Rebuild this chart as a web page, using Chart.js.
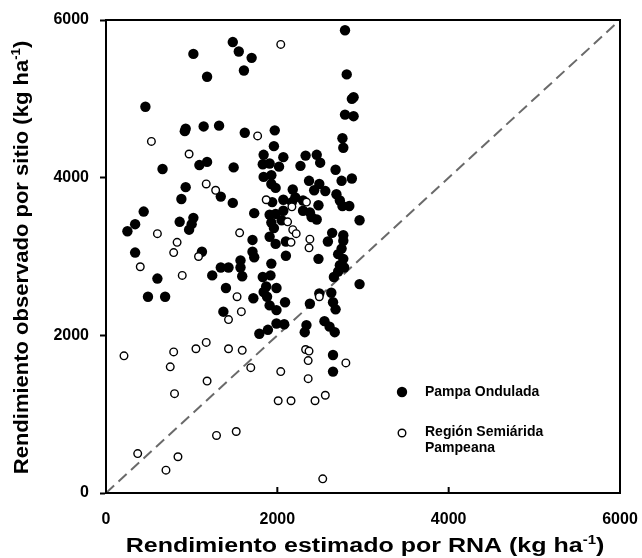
<!DOCTYPE html>
<html>
<head>
<meta charset="utf-8">
<script src="https://cdn.jsdelivr.net/npm/chart.js@4.4.1/dist/chart.umd.min.js"></script>
<style>
  html, body { margin: 0; padding: 0; background: #fff; }
</style>
</head>
<body>
<canvas id="yieldChart" width="642" height="558"></canvas>
<script>
// Observed vs. ANN-estimated yield per site (kg/ha)
const seriesNames = ['Pampa Ondulada', 'Región Semiárida Pampeana']
const axisTicks = [0, 2000, 4000, 6000]
const identityLine = [0, 6000]

// [estimado, observado]
const pampaOndulada = [
  [1480, 5720], [1550, 5600], [1700, 5520], [1610, 5360], [1020, 5570], [1180, 5280],
  [460, 4900], [930, 4620], [920, 4590], [1140, 4650], [1320, 4660], [1620, 4570],
  [1970, 4600], [1960, 4400], [1090, 4160], [1180, 4200], [660, 4110], [1490, 4130],
  [1840, 4290], [1830, 4170], [1910, 4180], [1840, 4010], [1930, 4030],
  [2790, 5870], [2810, 5310], [2890, 5020], [2870, 5000], [2790, 4800], [2890, 4780],
  [2760, 4500], [2770, 4380], [2070, 4260], [2330, 4280], [2460, 4290], [2500, 4190],
  [2270, 4150], [2020, 4140], [2680, 4100], [2370, 3960], [2750, 3960], [2870, 3990],
  [930, 3880], [1340, 3760], [880, 3730], [1480, 3680], [440, 3570], [340, 3410],
  [250, 3320], [860, 3440], [1020, 3490], [1000, 3410], [970, 3340], [1120, 3060],
  [340, 3050], [600, 2720], [490, 2490], [690, 2490], [1240, 2760], [1340, 2860],
  [1430, 2860], [1570, 2950], [1570, 2860], [1590, 2750], [1400, 2600], [1370, 2300],
  [1730, 3550], [1710, 3210], [1710, 3060], [1730, 2990], [1720, 2470], [1930, 2910],
  [1830, 2740], [1920, 2760], [1870, 2620], [1990, 2600], [1880, 2490], [1910, 2380],
  [1990, 2150], [1790, 2020], [1890, 2070], [1910, 3530], [1980, 3540], [1910, 3250],
  [1980, 3160], [1960, 3360], [1930, 3920], [1940, 3690],
  [2490, 3920], [2430, 3840], [2560, 3830], [2690, 3790], [2730, 3710], [2760, 3640],
  [2840, 3640], [2960, 3460], [2180, 3850], [2210, 3750], [1980, 3870], [2070, 3720],
  [2480, 3650], [2300, 3580], [2380, 3560], [2400, 3500], [2460, 3470], [2070, 3580],
  [2100, 3190], [2640, 3300], [2770, 3270], [2590, 3190], [2770, 3200], [2750, 3100],
  [2710, 3030], [2770, 2970], [2730, 2890], [2780, 2860], [2710, 2810], [2660, 2740],
  [2480, 2970], [2100, 3010], [2960, 2650], [2490, 2530], [2630, 2540], [2650, 2420],
  [2680, 2330], [2380, 2400], [2090, 2420], [1990, 2320], [2550, 2180], [2610, 2110],
  [2670, 2040], [2340, 2130], [2320, 2040], [2080, 2140], [2650, 1750], [2650, 1540],
  [1930, 3430], [2050, 3460], [1840, 2550], [2300, 3710], [2170, 3690]
]

const regionSemiarida = [
  [1770, 4530], [530, 4460], [970, 4300], [2040, 5690], [1170, 3920], [1280, 3840],
  [600, 3290], [830, 3180], [790, 3050], [1080, 3000], [400, 2870], [890, 2760],
  [1530, 2490], [1430, 2200], [1580, 2300], [1560, 3300], [1870, 3720], [1170, 1910],
  [2170, 3630], [2340, 3690], [2120, 3440], [2180, 3340], [2220, 3290], [2160, 3180],
  [2380, 3220], [2370, 3110], [2490, 2490], [210, 1740], [790, 1790], [750, 1600],
  [1050, 1830], [1430, 1830], [1590, 1810], [1690, 1590], [1180, 1420], [800, 1260],
  [1290, 730], [1520, 780], [370, 500], [840, 460], [700, 290], [2040, 1540],
  [2010, 1170], [2330, 1820], [2370, 1800], [2360, 1680], [2360, 1450], [2800, 1650],
  [2160, 1170], [2440, 1170], [2560, 1240], [2530, 180]
]

const toPoints = arr => arr.map(([x, y]) => ({ x, y }))
const FONT = '"Liberation Sans", Arial, sans-serif'

// draws "text(kg ha^-1)" with a raised exponent, centred on (0,0) of the current transform
function drawUnitTitle(ctx, main) {
  const big = 'bold 20px ' + FONT
  const small = 'bold 12px ' + FONT
  ctx.font = big
  const w1 = ctx.measureText(main).width
  const w3 = ctx.measureText(')').width
  ctx.font = small
  const w2 = ctx.measureText('-1').width
  let x = -(w1 + w2 + w3) / 2
  ctx.textBaseline = 'alphabetic'
  ctx.textAlign = 'left'
  ctx.font = big
  ctx.fillText(main, x, 7)
  x += w1
  ctx.font = small
  ctx.fillText('-1', x, -1)
  x += w2
  ctx.font = big
  ctx.fillText(')', x, 7)
}

const decorPlugin = {
  id: 'decor',
  afterDraw(chart) {
    const { ctx, chartArea: a, scales } = chart
    ctx.save()
    ctx.fillStyle = '#000'
    ctx.strokeStyle = '#000'
    ctx.lineWidth = 2
    ctx.strokeRect(a.left, a.top, a.right - a.left, a.bottom - a.top)

    // x ticks point into the plot
    axisTicks.forEach(v => {
      const px = scales.x.getPixelForValue(v)
      ctx.beginPath()
      ctx.moveTo(px, a.bottom)
      ctx.lineTo(px, a.bottom - 6)
      ctx.stroke()
    })

    // legend, lower right inside the plot
    const lx = a.right - 218
    const ly = a.bottom - 101
    chart.data.datasets.slice(0, 2).forEach((ds, i) => {
      const cy = ly + i * 41
      ctx.beginPath()
      ctx.arc(lx, cy, ds.pointRadius, 0, Math.PI * 2)
      ctx.fillStyle = ds.backgroundColor
      ctx.fill()
      if (ds.borderWidth) {
        ctx.lineWidth = ds.borderWidth
        ctx.strokeStyle = ds.borderColor
        ctx.stroke()
      }
      ctx.fillStyle = '#000'
      ctx.font = 'bold 14px ' + FONT
      ctx.textAlign = 'left'
      ctx.textBaseline = 'middle'
      if (i === 0) {
        ctx.fillText(ds.label, lx + 23, cy)
      } else {
        const words = ds.label.split(' ')
        ctx.fillText(words.slice(0, 2).join(' '), lx + 23, cy - 1)
        ctx.fillText(words.slice(2).join(' '), lx + 23, cy + 15)
      }
    })

    // axis titles, drawn slightly widened
    ctx.fillStyle = '#000'
    ctx.save()
    ctx.translate((a.left + a.right) / 2 + 2, 545)
    ctx.scale(1.25, 1)
    drawUnitTitle(ctx, 'Rendimiento estimado por RNA (kg ha')
    ctx.restore()
    ctx.save()
    ctx.translate(21, (a.top + a.bottom) / 2 + 1)
    ctx.rotate(-Math.PI / 2)
    ctx.scale(1.1, 1)
    drawUnitTitle(ctx, 'Rendimiento observado por sitio (kg ha')
    ctx.restore()
    ctx.restore()
  }
}

const tickFont = { family: FONT, size: 16, weight: 'bold' }

new Chart(document.getElementById('yieldChart').getContext('2d'), {
  type: 'scatter',
  data: {
    datasets: [
      {
        label: seriesNames[0],
        data: toPoints(pampaOndulada),
        pointRadius: 5.2,
        backgroundColor: '#000',
        borderColor: '#000',
        borderWidth: 0,
        order: 2,
      },
      {
        label: seriesNames[1],
        data: toPoints(regionSemiarida),
        pointRadius: 3.8,
        backgroundColor: '#fff',
        borderColor: '#000',
        borderWidth: 1.4,
        order: 1,
      },
      {
        type: 'line',
        label: '1:1',
        data: identityLine.map(v => ({ x: v, y: v })),
        borderColor: '#6a6a6a',
        borderWidth: 2,
        borderDash: [11, 6],
        pointRadius: 0,
        order: 3,
      },
    ],
  },
  options: {
    responsive: false,
    animation: false,
    events: [],
    devicePixelRatio: 1,
    layout: { padding: { top: 20, right: 22, left: 0, bottom: 0 } },
    plugins: {
      legend: { display: false },
      tooltip: { enabled: false },
    },
    scales: {
      x: {
        type: 'linear',
        min: 0,
        max: 6000,
        afterBuildTicks: s => { s.ticks = axisTicks.map(v => ({ value: v })) },
        afterFit: s => { s.height = 65; s.paddingLeft = 0; s.paddingRight = 0 },
        ticks: { color: '#000', font: tickFont, padding: 17, maxRotation: 0, callback: v => String(v) },
        grid: { display: false, drawTicks: false },
        border: { display: true, color: '#000', width: 2 },
      },
      y: {
        type: 'linear',
        min: 0,
        max: 6000,
        afterBuildTicks: s => { s.ticks = axisTicks.map(v => ({ value: v })) },
        afterFit: s => { s.width = 106; s.paddingTop = 0; s.paddingBottom = 0 },
        ticks: { color: '#000', font: tickFont, padding: 11, callback: v => String(v) },
        grid: { display: true, drawOnChartArea: false, drawTicks: true, tickLength: 6, tickWidth: 2, tickColor: '#000' },
        border: { display: true, color: '#000', width: 2 },
      },
    },
  },
  plugins: [decorPlugin],
})
</script>
</body>
</html>
